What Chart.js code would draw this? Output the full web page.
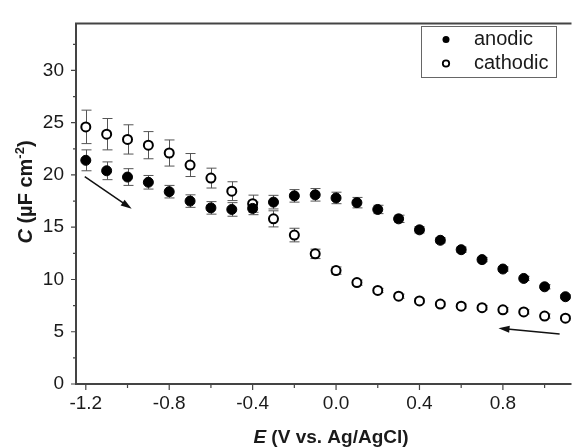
<!DOCTYPE html>
<html lang="en">
<head>
<meta charset="UTF-8">
<title>Capacitance vs potential</title>
<script src="https://cdn.jsdelivr.net/npm/chart.js@4.4.0/dist/chart.umd.min.js"></script>
<style>
  body { margin: 0; background: #fff; }
  #wrap { position: relative; width: 578px; height: 448px; }
</style>
</head>
<body>
<div id="wrap"><canvas id="myChart" width="578" height="448"></canvas></div>

<script>
// potential (V vs. Ag/AgCl)
const potentials = [-1.2, -1.1, -1.0, -0.9, -0.8, -0.7, -0.6, -0.5, -0.4, -0.3, -0.2, -0.1,
                    0.0, 0.1, 0.2, 0.3, 0.4, 0.5, 0.6, 0.7, 0.8, 0.9, 1.0, 1.1];
// capacitance, uF cm-2
const anodic = [21.4, 20.4, 19.8, 19.3, 18.4, 17.5, 16.85, 16.7, 16.8, 17.4, 18.0, 18.1,
                17.8, 17.35, 16.7, 15.8, 14.75, 13.75, 12.85, 11.9, 11.0, 10.1, 9.3, 8.35];
const anodicErr = [1.0, 0.85, 0.8, 0.65, 0.6, 0.6, 0.6, 0.65, 0.6, 0.65, 0.6, 0.6,
                   0.55, 0.5, 0.4, 0.35, 0.3, 0.25, 0.25, 0.2, 0.2, 0.2, 0.2, 0.2];
const cathodic = [24.6, 23.9, 23.4, 22.85, 22.1, 20.95, 19.7, 18.45, 17.25, 15.8, 14.25, 12.45,
                  10.85, 9.7, 8.95, 8.4, 7.95, 7.65, 7.45, 7.3, 7.1, 6.9, 6.5, 6.3];
const cathodicErr = [1.6, 1.5, 1.4, 1.3, 1.25, 1.1, 0.95, 0.9, 0.82, 0.77, 0.65, 0.45,
                     0.35, 0.25, 0.2, 0.2, 0.2, 0.2, 0.2, 0.2, 0.2, 0.2, 0.2, 0.2];

const xTicksMajor = [-1.2, -0.8, -0.4, 0.0, 0.4, 0.8];
const xTicksMinor = [-1.0, -0.6, -0.2, 0.2, 0.6, 1.0];
const yTicksMajor = [0, 5, 10, 15, 20, 25, 30];
const yTicksMinor = [2.5, 7.5, 12.5, 17.5, 22.5, 27.5, 32.5];

// scan direction arrows [tailE, tailC, headE, headC]
const arrows = [[-1.205, 19.84, -0.98, 16.76], [1.072, 4.78, 0.779, 5.33]];

const axisColor = '#444';
const textColor = '#1a1a1a';

const errorBars = {
  id: 'errorBars',
  beforeDatasetsDraw(chart) {
    const ctx = chart.ctx;
    const xs = chart.scales.x, ys = chart.scales.y;
    const sets = [[anodic, anodicErr], [cathodic, cathodicErr]];
    ctx.save();
    ctx.strokeStyle = '#555';
    ctx.lineWidth = 1;
    sets.forEach(([vals, errs]) => {
      vals.forEach((v, i) => {
        const px = Math.round(xs.getPixelForValue(potentials[i])) + 0.5;
        const top = ys.getPixelForValue(v + errs[i]);
        const bot = ys.getPixelForValue(v - errs[i]);
        ctx.beginPath();
        ctx.moveTo(px, top); ctx.lineTo(px, bot);
        ctx.moveTo(px - 5, top); ctx.lineTo(px + 5, top);
        ctx.moveTo(px - 5, bot); ctx.lineTo(px + 5, bot);
        ctx.stroke();
      });
    });
    ctx.restore();
  }
};

const frame = {
  id: 'frame',
  afterDraw(chart) {
    const ctx = chart.ctx;
    const a = chart.chartArea;
    const xs = chart.scales.x, ys = chart.scales.y;
    ctx.save();
    ctx.strokeStyle = axisColor;
    ctx.lineWidth = 2;
    ctx.beginPath();
    ctx.moveTo(a.right, a.top); ctx.lineTo(a.left, a.top);
    ctx.lineTo(a.left, a.bottom); ctx.lineTo(a.right, a.bottom);
    ctx.stroke();

    ctx.lineWidth = 1.2;
    ctx.beginPath();
    xTicksMajor.forEach(v => { const p = xs.getPixelForValue(v); ctx.moveTo(p, a.bottom); ctx.lineTo(p, a.bottom + 6); });
    xTicksMinor.forEach(v => { const p = xs.getPixelForValue(v); ctx.moveTo(p, a.bottom); ctx.lineTo(p, a.bottom + 4); });
    yTicksMajor.forEach(v => { const p = ys.getPixelForValue(v); ctx.moveTo(a.left, p); ctx.lineTo(a.left - 5, p); });
    yTicksMinor.forEach(v => { const p = ys.getPixelForValue(v); ctx.moveTo(a.left, p); ctx.lineTo(a.left - 3, p); });
    ctx.stroke();

    // arrows
    ctx.strokeStyle = '#111';
    ctx.fillStyle = '#111';
    ctx.lineWidth = 1.5;
    arrows.forEach(([e0, c0, e1, c1]) => {
      const x0 = xs.getPixelForValue(e0), y0 = ys.getPixelForValue(c0);
      const x1 = xs.getPixelForValue(e1), y1 = ys.getPixelForValue(c1);
      const ang = Math.atan2(y1 - y0, x1 - x0);
      ctx.beginPath();
      ctx.moveTo(x0, y0);
      ctx.lineTo(x1 - 6 * Math.cos(ang), y1 - 6 * Math.sin(ang));
      ctx.stroke();
      ctx.beginPath();
      ctx.moveTo(x1, y1);
      ctx.lineTo(x1 - 11 * Math.cos(ang) + 3.5 * Math.sin(ang), y1 - 11 * Math.sin(ang) - 3.5 * Math.cos(ang));
      ctx.lineTo(x1 - 11 * Math.cos(ang) - 3.5 * Math.sin(ang), y1 - 11 * Math.sin(ang) + 3.5 * Math.cos(ang));
      ctx.closePath();
      ctx.fill();
    });

    // legend
    ctx.strokeStyle = '#666';
    ctx.lineWidth = 1;
    ctx.strokeRect(421.5, 26.5, 135, 51);
    ctx.fillStyle = '#000';
    ctx.beginPath(); ctx.arc(446, 39.5, 3.5, 0, Math.PI * 2); ctx.fill();
    ctx.strokeStyle = '#000';
    ctx.lineWidth = 1.8;
    ctx.beginPath(); ctx.arc(446, 63.5, 3.2, 0, Math.PI * 2); ctx.stroke();
    ctx.fillStyle = textColor;
    ctx.font = '20px "Liberation Sans", Arial, sans-serif';
    ctx.textBaseline = 'middle';
    ctx.textAlign = 'left';
    ctx.fillText('anodic', 474, 39.5);
    ctx.fillText('cathodic', 474, 63.5);

    // x title: E (V vs. Ag/AgCl)
    ctx.textBaseline = 'alphabetic';
    const bi = 'italic bold 19px "Liberation Sans", Arial, sans-serif';
    const b = 'bold 19px "Liberation Sans", Arial, sans-serif';
    ctx.font = bi; const wE = ctx.measureText('E').width;
    ctx.font = b; const wRest = ctx.measureText(' (V vs. Ag/AgCl)').width;
    let sx = 331 - (wE + wRest) / 2;
    ctx.font = bi; ctx.fillText('E', sx, 443);
    ctx.font = b; ctx.fillText(' (V vs. Ag/AgCl)', sx + wE, 443);

    // y title: C (uF cm-2)
    ctx.save();
    ctx.translate(32, 192);
    ctx.rotate(-Math.PI / 2);
    const ybi = 'italic bold 20px "Liberation Sans", Arial, sans-serif';
    const yb = 'bold 20px "Liberation Sans", Arial, sans-serif';
    const sup = 'bold 13px "Liberation Sans", Arial, sans-serif';
    ctx.font = ybi; const wC = ctx.measureText('C').width;
    ctx.font = yb; const wMid = ctx.measureText(' (\u00b5F cm').width;
    ctx.font = sup; const wSup = ctx.measureText('-2').width;
    ctx.font = yb; const wEnd = ctx.measureText(')').width;
    let ty = -(wC + wMid + wSup + wEnd) / 2;
    ctx.font = ybi; ctx.fillText('C', ty, 0); ty += wC;
    ctx.font = yb; ctx.fillText(' (\u00b5F cm', ty, 0); ty += wMid;
    ctx.font = sup; ctx.fillText('-2', ty, -8); ty += wSup;
    ctx.font = yb; ctx.fillText(')', ty, 0);
    ctx.restore();

    ctx.restore();
  }
};

const tickFont = { family: '"Liberation Sans", Arial, sans-serif', size: 19 };

new Chart(document.getElementById('myChart'), {
  type: 'scatter',
  data: {
    datasets: [{
      label: 'anodic',
      data: potentials.map((e, i) => ({ x: e, y: anodic[i] })),
      pointRadius: 5,
      pointBackgroundColor: '#000',
      pointBorderColor: '#000',
      pointBorderWidth: 1,
      showLine: false,
      clip: false
    }, {
      label: 'cathodic',
      data: potentials.map((e, i) => ({ x: e, y: cathodic[i] })),
      pointRadius: 4.5,
      pointBackgroundColor: '#fff',
      pointBorderColor: '#000',
      pointBorderWidth: 2,
      showLine: false,
      clip: false
    }]
  },
  options: {
    responsive: false,
    animation: false,
    layout: { padding: { top: 11, right: 0, left: 0, bottom: 0 } },
    plugins: { legend: { display: false }, tooltip: { enabled: false } },
    scales: {
      x: {
        type: 'linear',
        min: -1.247,
        max: 1.129,
        afterBuildTicks: s => { s.ticks = xTicksMajor.map(v => ({ value: v })); },
        afterFit: s => { s.height = 64; },
        grid: { display: false, drawTicks: false },
        border: { display: false },
        ticks: {
          font: tickFont, color: textColor, padding: 8, maxRotation: 0,
          callback: v => v.toFixed(1)
        }
      },
      y: {
        min: 0,
        max: 34.5,
        afterBuildTicks: s => { s.ticks = yTicksMajor.map(v => ({ value: v })); },
        afterFit: s => { s.width = 76; },
        grid: { display: false, drawTicks: false },
        border: { display: false },
        ticks: { font: tickFont, color: textColor, padding: 12 }
      }
    }
  },
  plugins: [errorBars, frame]
});
</script>
</body>
</html>
